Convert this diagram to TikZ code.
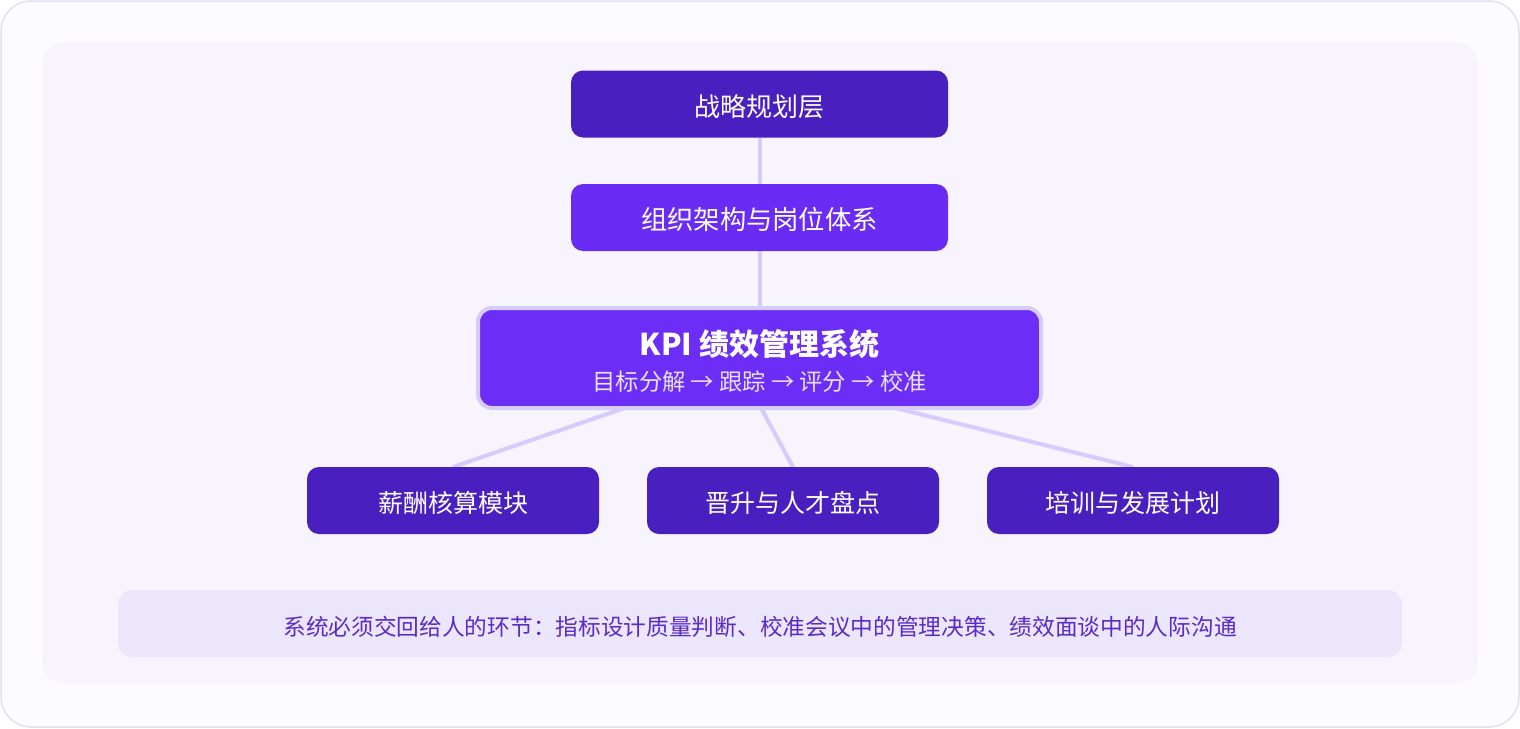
\documentclass[tikz,border=0pt]{standalone}
\usepackage{fontspec}
\setmainfont{Noto Sans CJK SC}
\usetikzlibrary{calc}
\definecolor{deep}{HTML}{4A1FC0}
\definecolor{mid}{HTML}{6A2CF4}
\definecolor{kpic}{HTML}{6C2EF6}
\definecolor{kpiline}{HTML}{D6CCFA}
\definecolor{linkc}{HTML}{D6CBFA}
\definecolor{outerbg}{HTML}{FCFBFF}
\definecolor{outerline}{HTML}{E2DFF2}
\definecolor{innerbg}{HTML}{F7F4FE}
\definecolor{footbg}{HTML}{ECE6FC}
\definecolor{foottext}{HTML}{5A2BC6}
\definecolor{subtext}{HTML}{E8E0FF}
\pgfdeclarelayer{back}
\pgfdeclarelayer{lines}
\pgfsetlayers{back,lines,main}
\begin{document}
\begin{tikzpicture}[x=1pt,y=-1pt,
  box/.style={rounded corners=12pt, inner sep=0pt, outer sep=0pt, text=white,
    minimum height=67pt, text height=24pt, text depth=0pt, font=\fontsize{25}{30}\selectfont},
  kpibox/.style={rounded corners=14pt, fill=kpic, draw=kpiline, line width=4pt,
    minimum width=563pt, minimum height=100pt, inner sep=0pt, outer sep=0pt},
  link/.style={draw=linkc, line width=4pt},
  foot/.style={fill=footbg, rounded corners=14pt, minimum width=1284pt,
    minimum height=67pt, inner sep=0pt}]
\useasboundingbox (0,0) rectangle (1520,728);
\begin{pgfonlayer}{back}
\draw[fill=outerbg, draw=outerline, line width=1.5pt, rounded corners=30pt] (1,1) rectangle (1519,727);
\fill[innerbg, rounded corners=22pt] (42,42) rectangle (1478,684);
\end{pgfonlayer}

\node[box, fill=deep, minimum width=377pt, font=\fontsize{26}{30}\selectfont] (s) at (759.5,104) {战略规划层};
\node[box, fill=mid, minimum width=377pt, font=\fontsize{26.3}{30}\selectfont] (o) at (759.5,217.5) {组织架构与岗位体系};
\node[kpibox] (k) at (759.5,358) {};
\node[text=white, font=\fontsize{30}{34}\selectfont\bfseries, inner sep=0pt] (kt) at ($(k.center)+(0,-14)$) {KPI 绩效管理系统};
\node[text=subtext, font=\fontsize{23.3}{28}\selectfont, inner sep=0pt] (ks) at ($(k.center)+(0,24)$) {目标分解 → 跟踪 → 评分 → 校准};

\node[box, fill=deep, minimum width=292pt] (b1) at (453,500.5) {薪酬核算模块};
\node[box, fill=deep, minimum width=292pt] (b2) at (793,500.5) {晋升与人才盘点};
\node[box, fill=deep, minimum width=292pt] (b3) at (1133,500.5) {培训与发展计划};

\node[foot] (f) at (760,623.5) {};
\node[text=foottext, font=\fontsize{22.7}{27}\selectfont, inner sep=0pt] (ft) at ($(f.center)+(0,3.5)$) {系统必须交回给人的环节：指标设计质量判断、校准会议中的管理决策、绩效面谈中的人际沟通};

\begin{pgfonlayer}{lines}
\draw[link] (s.south) -- (o.north);
\draw[link] (o.south) -- (k.north);
\draw[link] ($(k.south)+(-132,-1)$) -- (b1.north);
\draw[link] ($(k.south)+(1,-1)$) -- (b2.north);
\draw[link] ($(k.south)+(132,-1)$) -- (b3.north);
\end{pgfonlayer}
\end{tikzpicture}
\end{document}
